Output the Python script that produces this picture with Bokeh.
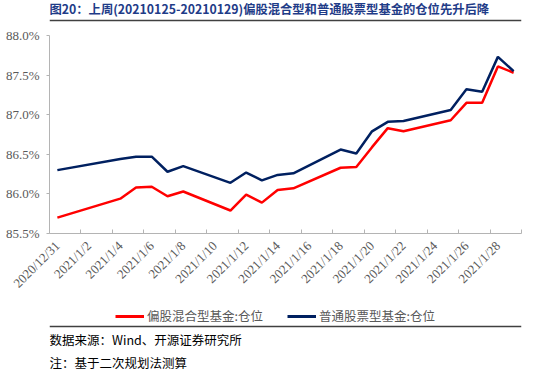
from datetime import datetime
from math import pi

from bokeh.plotting import figure
from bokeh.layouts import column
from bokeh.models import (Range1d, FixedTicker, PrintfTickFormatter, Legend, LegendItem)
from bokeh.core.properties import value
from bokeh.embed import file_html
from bokeh.resources import INLINE

# ---------------- data ----------------
dates = ["2020/12/31", "2021/1/4", "2021/1/5", "2021/1/6", "2021/1/7", "2021/1/8",
         "2021/1/11", "2021/1/12", "2021/1/13", "2021/1/14", "2021/1/15",
         "2021/1/18", "2021/1/19", "2021/1/20", "2021/1/21", "2021/1/22",
         "2021/1/25", "2021/1/26", "2021/1/27", "2021/1/28", "2021/1/29"]
hybrid_fund = [85.70, 85.94, 86.08, 86.09, 85.97, 86.03,
               85.79, 85.99, 85.89, 86.05, 86.07,
               86.33, 86.34, 86.59, 86.83, 86.79,
               86.93, 87.15, 87.15, 87.61, 87.53]
stock_fund = [86.30, 86.44, 86.47, 86.47, 86.28, 86.35,
              86.14, 86.27, 86.17, 86.24, 86.26,
              86.56, 86.51, 86.79, 86.91, 86.92,
              87.06, 87.32, 87.29, 87.73, 87.55]
tick_labels = ["2020/12/31", "2021/1/2", "2021/1/4", "2021/1/6", "2021/1/8",
               "2021/1/10", "2021/1/12", "2021/1/14", "2021/1/16", "2021/1/18",
               "2021/1/20", "2021/1/22", "2021/1/24", "2021/1/26", "2021/1/28"]
y_ticks = [85.5, 86.0, 86.5, 87.0, 87.5, 88.0]
series_names = ["偏股混合型基金:仓位", "普通股票型基金:仓位"]
series_colors = ["#FF0000", "#002060"]
title_text = "图20：上周(20210125-20210129)偏股混合型和普通股票型基金的仓位先升后降"
source_text = "数据来源：Wind、开源证券研究所"
note_text = "注：基于二次规划法测算"

base = datetime.strptime(dates[0], "%Y/%m/%d")
def day_offset(s):
    return (datetime.strptime(s, "%Y/%m/%d") - base).days

xs = [day_offset(d) for d in dates]
tick_pos = [day_offset(t) for t in tick_labels]
n_days = xs[-1]

W = 534
CJK = "Noto Sans CJK SC"
SERIF = "Liberation Serif"
AXIS_GRAY = "#B4B4B4"
TEXT_GRAY = "#595959"

# ---------------- title strip ----------------
TH = 22
pt = figure(width=W, height=TH, output_backend="svg", toolbar_location=None,
            x_range=Range1d(0, W), y_range=Range1d(TH, 0),
            x_axis_location=None, y_axis_location=None,
            min_border=0, outline_line_color=None)
pt.grid.visible = False
pt.text(x=[0], y=[8.5], text=[title_text], text_baseline="middle", text_align="left",
        text_font=value(CJK), text_font_size="12.3px", text_font_style="bold",
        text_color="#1F3C88")
pt.segment(x0=[0], y0=[20], x1=[W], y1=[20], line_color="#404040", line_width=1.5)

# ---------------- main chart ----------------
MH = 276
p = figure(width=W, height=MH, output_backend="svg", toolbar_location=None,
           x_range=Range1d(-0.5, n_days + 0.5), y_range=Range1d(y_ticks[0], y_ticks[-1]),
           min_border_left=49, min_border_right=13, min_border_top=13, min_border_bottom=60,
           outline_line_color=None)
p.grid.visible = False

p.line(xs, hybrid_fund, line_color=series_colors[0], line_width=2.5)
p.line(xs, stock_fund, line_color=series_colors[1], line_width=2.5)

xa = p.xaxis[0]
xa.ticker = FixedTicker(ticks=tick_pos,
                        minor_ticks=[t - 0.5 for t in range(0, n_days + 2, 2)])
xa.major_label_overrides = {t: lab for t, lab in zip(tick_pos, tick_labels)}
xa.major_label_orientation = pi / 4
xa.major_tick_line_color = None
xa.minor_tick_in = 4
xa.minor_tick_out = 0
xa.minor_tick_line_color = AXIS_GRAY
xa.axis_line_color = AXIS_GRAY
xa.major_label_text_font = SERIF
xa.major_label_text_font_size = "13px"
xa.major_label_text_color = TEXT_GRAY
xa.major_label_standoff = 4

ya = p.yaxis[0]
ya.ticker = FixedTicker(ticks=y_ticks)
ya.formatter = PrintfTickFormatter(format="%.1f%%")
ya.minor_tick_line_color = None
ya.major_tick_in = 0
ya.major_tick_out = 3
ya.major_tick_line_color = AXIS_GRAY
ya.axis_line_color = AXIS_GRAY
ya.major_label_text_font = SERIF
ya.major_label_text_font_size = "13px"
ya.major_label_text_color = TEXT_GRAY
ya.major_label_standoff = 7

# ---------------- footer strip (legend + notes) ----------------
FH = 74
pf = figure(width=W, height=FH, output_backend="svg", toolbar_location=None,
            x_range=Range1d(0, W), y_range=Range1d(FH, 0),
            x_axis_location=None, y_axis_location=None,
            min_border=0, outline_line_color=None)
pf.grid.visible = False
# legend keys: one-point lines (draw nothing visible), styled like the series
k1 = pf.line(x=[xs[0]], y=[hybrid_fund[0]], line_color=series_colors[0], line_width=3)
k2 = pf.line(x=[xs[0]], y=[stock_fund[0]], line_color=series_colors[1], line_width=3)
legend = Legend(items=[LegendItem(label=series_names[0], renderers=[k1]),
                       LegendItem(label=series_names[1], renderers=[k2])],
                orientation="horizontal", location=(66, 47),
                glyph_width=29, glyph_height=16, label_standoff=3, spacing=24,
                padding=2, margin=0, border_line_color=None, background_fill_alpha=0,
                label_text_font=CJK, label_text_font_size="12.5px",
                label_text_color=TEXT_GRAY)
pf.add_layout(legend, "center")

pf.segment(x0=[0], y0=[28], x1=[W], y1=[28], line_color="#404040", line_width=1.5)
pf.text(x=[0, 0], y=[41, 64], text=[source_text, note_text], text_baseline="middle",
        text_align="left", text_font=value(CJK), text_font_size="12.5px",
        text_color="#000000")

layout = column(pt, p, pf, spacing=0)
open("out.html", "w").write(file_html(layout, INLINE))
